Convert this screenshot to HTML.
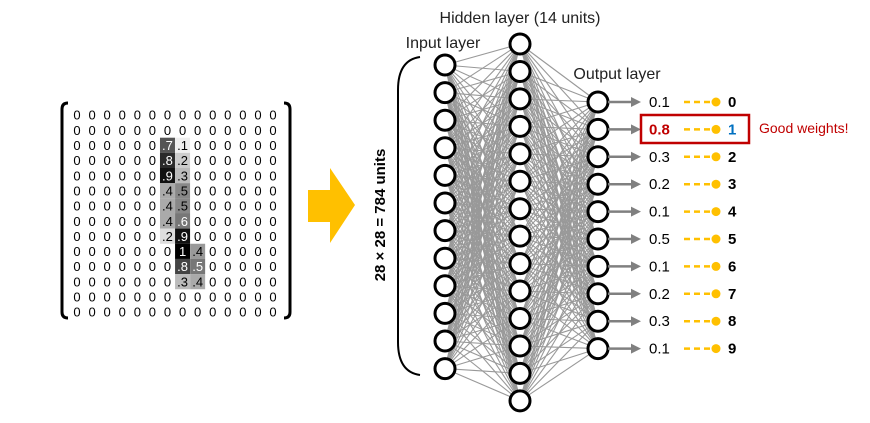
<!DOCTYPE html>
<html><head><meta charset="utf-8"><style>
html,body{margin:0;padding:0;background:#fff;}
svg{display:block;font-family:"Liberation Sans",sans-serif;}
</style></head><body>
<svg id="s" width="870" height="423" viewBox="0 0 870 423" xmlns="http://www.w3.org/2000/svg">
<g id="lines" stroke="#999" stroke-width="1.1"></g>
<g id="mat" font-size="13"></g>
<path d="M68,103 Q62,103 62,109 L62,312 Q62,318 68,318" fill="none" stroke="#000" stroke-width="3"/>
<path d="M284,103 Q290,103 290,109 L290,312 Q290,318 284,318" fill="none" stroke="#000" stroke-width="3"/>
<polygon points="308,190 330,190 330,168 355,205 330,243 330,222 308,222" fill="#ffc000"/>
<path d="M420,57 Q398,60 398,90 L398,342 Q398,372 420,375" fill="none" stroke="#000" stroke-width="2"/>
<text transform="translate(385,215) rotate(-90)" text-anchor="middle" font-size="15" font-weight="bold">28 × 28 = 784 units</text>
<text x="520" y="23" text-anchor="middle" font-size="16" fill="#222">Hidden layer (14 units)</text>
<text x="443" y="48" text-anchor="middle" font-size="16" fill="#222">Input layer</text>
<text x="617" y="79" text-anchor="middle" font-size="16" fill="#222">Output layer</text>
<g id="nodes" fill="#fff" stroke="#000" stroke-width="3"></g>
<g id="out"></g>
<rect x="641" y="115" width="108" height="28" fill="none" stroke="#c00000" stroke-width="2.5"/>
<text x="759" y="133" font-size="14" fill="#c00000">Good weights!</text>
</svg>
<script>
var ns="http://www.w3.org/2000/svg";
function el(p,t,a,txt){var e=document.createElementNS(ns,t);for(var k in a)e.setAttribute(k,a[k]);if(txt!==undefined)e.textContent=txt;p.appendChild(e);return e;}
var L=document.getElementById('lines'),N=document.getElementById('nodes'),O=document.getElementById('out'),M=document.getElementById('mat');
var inp=[],hid=[],outp=[],i,j;
for(i=0;i<12;i++)inp.push(65+i*27.6);
for(i=0;i<14;i++)hid.push(44+i*27.45);
for(i=0;i<10;i++)outp.push(102+i*27.4);
for(i=0;i<12;i++)for(j=0;j<14;j++)el(L,'line',{x1:445,y1:inp[i],x2:520,y2:hid[j]});
for(i=0;i<14;i++)for(j=0;j<10;j++)el(L,'line',{x1:520,y1:hid[i],x2:598,y2:outp[j]});
inp.forEach(function(y){el(N,'circle',{cx:445,cy:y,r:10});});
hid.forEach(function(y){el(N,'circle',{cx:520,cy:y,r:10});});
outp.forEach(function(y){el(N,'circle',{cx:598,cy:y,r:10});});
var vals=['0.1','0.8','0.3','0.2','0.1','0.5','0.1','0.2','0.3','0.1'];
for(i=0;i<10;i++){var y=outp[i];
el(O,'line',{x1:608,y1:y,x2:632,y2:y,stroke:'#808080','stroke-width':2.5});
el(O,'polygon',{points:'631,'+(y-5)+' 641,'+y+' 631,'+(y+5),fill:'#808080'});
el(O,'text',{x:649,y:y+5,'font-size':15,fill:i==1?'#c00000':'#000','font-weight':i==1?'bold':'normal'},vals[i]);
el(O,'line',{x1:684,y1:y,x2:712,y2:y,stroke:'#ffc000','stroke-width':2.5,'stroke-dasharray':'6,4'});
el(O,'circle',{cx:716,cy:y,r:4.5,fill:'#ffc000'});
el(O,'text',{x:728,y:y+5,'font-size':15,'font-weight':'bold',fill:i==1?'#0070c0':'#000'},String(i));}
var cells={'2,6':['.7','#555'],'2,7':['.1','#eee'],'3,6':['.8','#2a2a2a'],'3,7':['.2','#ccc'],'4,6':['.9','#111'],'4,7':['.3','#bbb'],
'5,6':['.4','#aaa'],'5,7':['.5','#888'],'6,6':['.4','#aaa'],'6,7':['.5','#888'],'7,6':['.4','#aaa'],'7,7':['.6','#777'],
'8,6':['.2','#ddd'],'8,7':['.9','#111'],'9,7':['1','#000'],'9,8':['.4','#999'],'10,7':['.8','#444'],'10,8':['.5','#777'],'11,7':['.3','#bbb'],'11,8':['.4','#aaa']};
for(var r=0;r<14;r++)for(var c=0;c<14;c++){var x=77+c*15.08,yy=115+r*15.15,k=r+','+c,t='0',fc='#000';
if(cells[k]){t=cells[k][0];el(M,'rect',{x:x-7.5,y:yy-7.6,width:15,height:15.2,fill:cells[k][1]});
var g=parseInt(cells[k][1].substr(1,2),16);if(cells[k][1].length==4)g=parseInt(cells[k][1][1]+cells[k][1][1],16);fc=g<0x80?'#fff':'#000';}
el(M,'text',{x:x,y:yy+4.7,'text-anchor':'middle',fill:fc},t);}
</script>
</body></html>
